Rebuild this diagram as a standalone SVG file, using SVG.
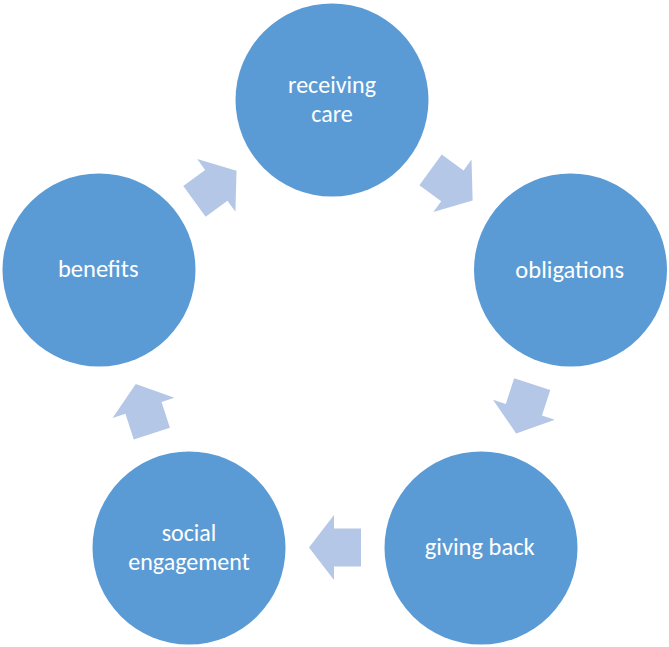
<svg xmlns="http://www.w3.org/2000/svg" xmlns:xlink="http://www.w3.org/1999/xlink" width="669" height="647" viewBox="0 0 669 647">
<style>
.node{fill:#5B9BD5}
.lbl{fill:#FFFFFF;font-family:Carlito,Calibri,"Open Sans",sans-serif;font-size:24.5px;text-anchor:middle}
.lbl2{font-size:24px}
.arr{fill:#B4C7E7}
</style>
<defs>
<polygon id="arrow" points="-26,-19 1,-19 1,-32.5 26,0 1,32.5 1,19 -26,19"/>
</defs>
<rect width="669" height="647" fill="#FFFFFF"/>
<g id="connectors" class="arr">
<use xlink:href="#arrow" transform="translate(215.5,186) rotate(-36)"/>
<use xlink:href="#arrow" transform="translate(451.6,185.2) rotate(36)"/>
<use xlink:href="#arrow" transform="translate(524.2,408.8) rotate(108)"/>
<use xlink:href="#arrow" transform="translate(335,547.5) rotate(180)"/>
<use xlink:href="#arrow" transform="translate(143.8,408.8) rotate(252)"/>
</g>
<g id="node-receiving-care">
<circle class="node" cx="332" cy="100" r="96.5"/>
<text class="lbl lbl2" x="332" y="93.2">receiving<tspan x="332" dy="29">care</tspan></text>
</g>
<g id="node-obligations">
<circle class="node" cx="570.5" cy="270" r="96.5"/>
<text class="lbl" x="569.7" y="278.3">obligations</text>
</g>
<g id="node-giving-back">
<circle class="node" cx="481" cy="548" r="96.5"/>
<text class="lbl" x="479.7" y="555.3">giving back</text>
</g>
<g id="node-social-engagement">
<circle class="node" cx="189" cy="548" r="96.5"/>
<text class="lbl lbl2" x="189" y="540.5">social<tspan x="189" dy="29">engagement</tspan></text>
</g>
<g id="node-benefits">
<circle class="node" cx="99" cy="270" r="96.5"/>
<text class="lbl" x="98.3" y="277.3">benefits</text>
</g>
</svg>
